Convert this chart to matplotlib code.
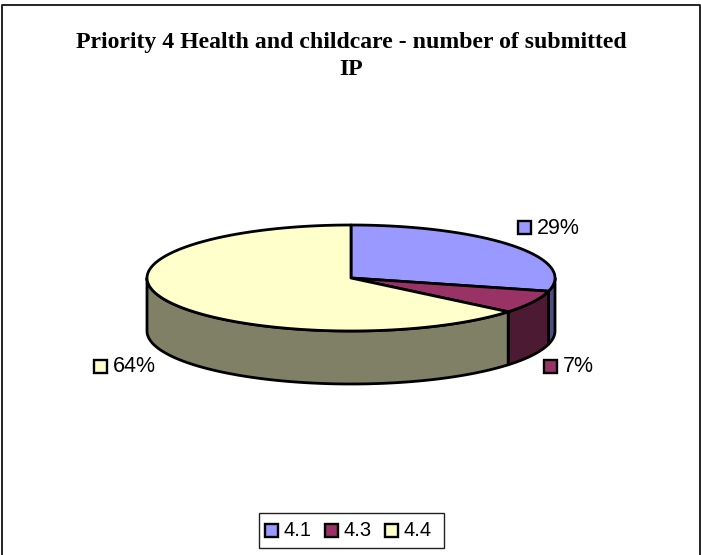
import numpy as np
import matplotlib
matplotlib.use('Agg')
import matplotlib.pyplot as plt
from matplotlib.patches import Polygon, Rectangle

title = "Priority 4 Health and childcare - number of submitted\nIP"
categories = ["4.1", "4.3", "4.4"]
shares = [29, 7, 64]
share_labels = ["29%", "7%", "64%"]
top_colors = ["#9999FF", "#993366", "#FFFFCC"]
side_colors = ["#4D4D80", "#4D1A33", "#808066"]

# pie geometry in pixels
cx, cy, rx, ry, depth = 351, 278, 204, 53, 53
lw = 2.0


def rim(t0, t1, n=120):
    # angles are clockwise from 12 o'clock
    t = np.radians(np.linspace(t0, t1, n))
    return np.column_stack([cx + rx * np.sin(t), cy - ry * np.cos(t)])


fig = plt.figure(figsize=(7.01, 5.55), dpi=100)
ax = fig.add_axes([0, 0, 1, 1])
ax.set_xlim(0, 701)
ax.set_ylim(555, 0)
ax.axis('off')

# outer frame, the bottom edge is cut off in the reference
ax.plot([1.5, 1.5, 700, 700], [560, 5, 5, 560], color='#222222', lw=1.4)

ax.text(351, 56, title, ha='center', va='center', family='Liberation Serif',
        weight='bold', fontsize=17.1, linespacing=1.38)

edges = np.cumsum([0] + shares) * 3.6

# side walls, only the front half of the rim shows
for i in range(len(shares)):
    t0, t1 = max(edges[i], 90), min(edges[i + 1], 270)
    if t0 < t1:
        front = rim(t0, t1)
        back = front[::-1] + [0, depth]
        ax.add_patch(Polygon(np.vstack([front, back]), closed=True,
                             fc=side_colors[i], ec='black', lw=lw, joinstyle='round'))

# top faces
for i in range(len(shares)):
    pts = np.vstack([[cx, cy], rim(edges[i], edges[i + 1])])
    ax.add_patch(Polygon(pts, closed=True, fc=top_colors[i], ec='black', lw=lw,
                         joinstyle='round'))


def swatch(x, y, color):
    ax.add_patch(Rectangle((x, y), 13, 13, fc=color, ec='black', lw=1.7, zorder=5))


# data labels
label_x = [518, 544, 94]
label_y = [221, 360, 360]
for i in range(len(shares)):
    swatch(label_x[i], label_y[i], top_colors[i])
    ax.text(label_x[i] + 19, label_y[i] + 7, share_labels[i], va='center', ha='left',
            family='Liberation Sans', fontsize=15.5, color='black')

# legend
ax.add_patch(Rectangle((259, 513), 185, 35, fc='white', ec='#222222', lw=1.0))
legend_x = [265, 325, 385]
for i in range(len(categories)):
    swatch(legend_x[i], 524, top_colors[i])
    ax.text(legend_x[i] + 19, 531, categories[i], va='center', ha='left',
            family='Liberation Sans', fontsize=14.5, color='black')

fig.savefig('out.png', dpi=100)
